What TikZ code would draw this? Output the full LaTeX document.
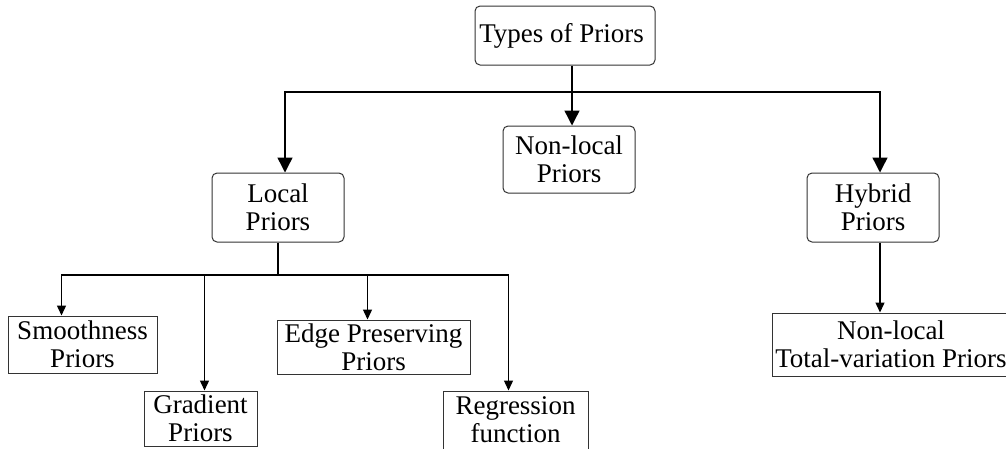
\documentclass[tikz,border=0pt]{standalone}
\usepackage{fontspec}
\setmainfont{Liberation Serif}
\usetikzlibrary{arrows.meta}

\tikzset{
    roundbox/.style={draw=black!80, line width=1pt, rounded corners=5pt, align=center, inner sep=0pt, font=\fontsize{27}{28}\selectfont},
    sqbox/.style={draw=black!80, line width=1pt, align=center, inner sep=0pt, font=\fontsize{27}{28}\selectfont},
    bigarrow/.style={line width=1.4pt, -{Triangle[width=15pt,length=15pt]}},
    smallarrow/.style={line width=1.4pt, -{Triangle[width=9pt,length=10pt]}},
    link/.style={line width=1.4pt}
}

\begin{document}
\begin{tikzpicture}[x=1pt,y=-1pt]

        \useasboundingbox (0,0) rectangle (1006,448);
        \clip (0,0) rectangle (1006,448);

        \node[roundbox, minimum width=180pt, minimum height=59pt] (T) at (565, 35.5) { Types of Priors };
        \node[roundbox, minimum width=132pt, minimum height=67pt] (N) at (569, 159.5) { Non-local\\Priors };
        \node[roundbox, minimum width=132pt, minimum height=69pt] (L) at (278, 207.5) { Local\\Priors };
        \node[roundbox, minimum width=132pt, minimum height=69pt] (H) at (873, 207.5) { Hybrid\\Priors };

        \node[sqbox, minimum width=149pt, minimum height=57pt] (S) at (82.5, 344.5) { Smoothness\\Priors };
        \node[sqbox, minimum width=113pt, minimum height=55pt] (G) at (200.5, 418.5) { Gradient\\Priors };
        \node[sqbox, minimum width=193pt, minimum height=54pt] (E) at (373.5, 347) { Edge Preserving\\Priors };
        \node[sqbox, minimum width=145pt, minimum height=58pt] (R) at (515.5, 420) { Regression\\function };
        \node[sqbox, minimum width=238pt, minimum height=63pt] (V) at (891, 344.5) { Non-local\\Total-variation Priors };

        \coordinate (top) at (572, 92);
        \coordinate (low) at (278, 275);

        \draw[bigarrow] ([xshift=7pt]T.south) -- ([xshift=3pt]N.north);
        \draw[bigarrow] (top) -| ([xshift=7pt]L.north);
        \draw[bigarrow] (top) -| ([xshift=7pt]H.north);

        \draw[link] (L.south) -- (low);
        \draw[smallarrow] (low) -| ([xshift=-21pt]S.north);
        \draw[smallarrow] (low) -| ([xshift=4pt]G.north);
        \draw[smallarrow] (low) -| ([xshift=-6pt]E.north);
        \draw[smallarrow] (low) -| ([xshift=-7pt]R.north);

        \draw[smallarrow] ([xshift=7pt]H.south) -- ([xshift=-11pt]V.north);

    \end{tikzpicture}
\end{document}
